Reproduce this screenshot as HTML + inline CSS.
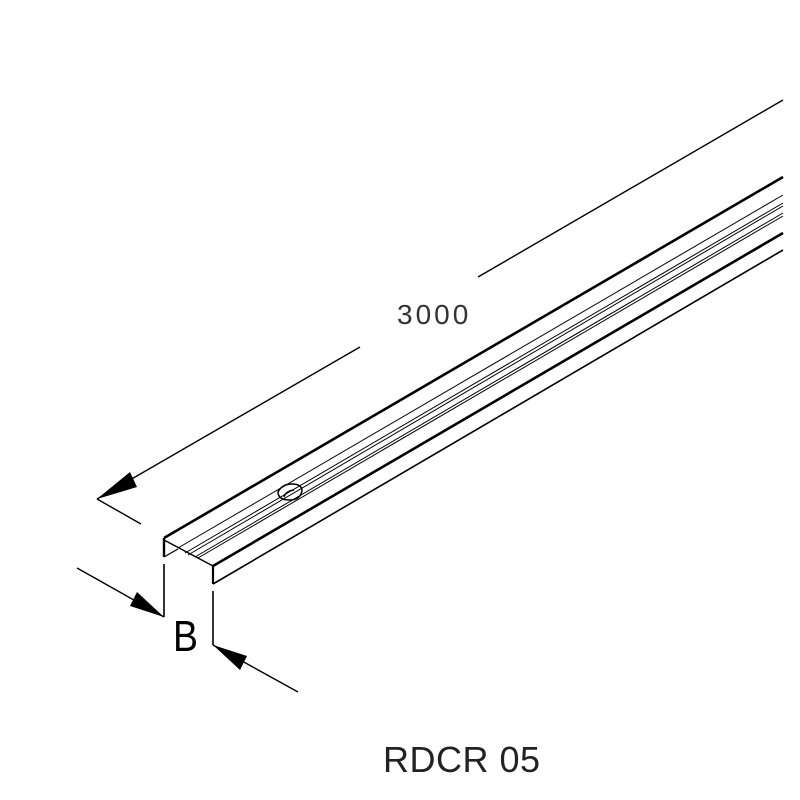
<!DOCTYPE html>
<html><head><style>
html,body{margin:0;padding:0;background:#fff;width:800px;height:800px;overflow:hidden}
</style></head><body>
<svg width="800" height="800" viewBox="0 0 800 800" xmlns="http://www.w3.org/2000/svg">
<g stroke="#000" fill="none" stroke-linecap="butt">
<line x1="164" y1="538" x2="783" y2="177" stroke-width="2.6"/>
<line x1="164" y1="538" x2="164" y2="557" stroke-width="2.4"/>
<line x1="164" y1="540" x2="213" y2="566" stroke-width="1.4"/>
<line x1="164" y1="557" x2="178" y2="549" stroke-width="1.2"/>
<line x1="213" y1="566" x2="783" y2="233" stroke-width="2.6"/>
<line x1="213" y1="566" x2="213" y2="584" stroke-width="2.2"/>
<line x1="213" y1="584" x2="783" y2="250" stroke-width="1.6"/>
<line x1="178" y1="548" x2="783" y2="195" stroke-width="1"/>
<line x1="185" y1="553" x2="783" y2="203" stroke-width="1"/>
<line x1="188" y1="555" x2="783" y2="206" stroke-width="1"/>
<line x1="195" y1="557" x2="783" y2="213" stroke-width="1"/>
<line x1="198" y1="558" x2="783" y2="216" stroke-width="1"/>
<path d="M278,492 q4,-8 14,-8 q10,0 10,7 q-2,9 -12,9 q-12,0 -12,-8z" stroke-width="1.5"/>
<path d="M284,497 q2,-6 10,-7" stroke-width="1.5"/>
<line x1="97" y1="499" x2="360" y2="347" stroke-width="1.4"/>
<line x1="478" y1="277" x2="783" y2="100" stroke-width="1.4"/>
<line x1="97" y1="499" x2="141" y2="524" stroke-width="1.4"/>
<line x1="164" y1="564" x2="164" y2="617" stroke-width="1.6"/>
<line x1="77" y1="568" x2="164" y2="617" stroke-width="1.4"/>
<line x1="213" y1="591" x2="213" y2="645" stroke-width="1.6"/>
<line x1="298" y1="692" x2="213" y2="645" stroke-width="1.4"/>
</g>
<g fill="#000">
<polygon points="97,499 130,472 137,487"/>
<polygon points="164,617 130,606 137,592"/>
<polygon points="213,645 247,656 240,670"/>
</g>
<text x="397" y="324" font-family="Liberation Sans, sans-serif" font-size="28" letter-spacing="3" fill="#333">3000</text>
<text transform="translate(173,651) scale(0.85,1)" font-family="Liberation Sans, sans-serif" font-size="44" fill="#000">B</text>
<text x="383" y="772" font-family="Liberation Sans, sans-serif" font-size="36" letter-spacing="0.5" fill="#222">RDCR 05</text>
</svg>
</body></html>
